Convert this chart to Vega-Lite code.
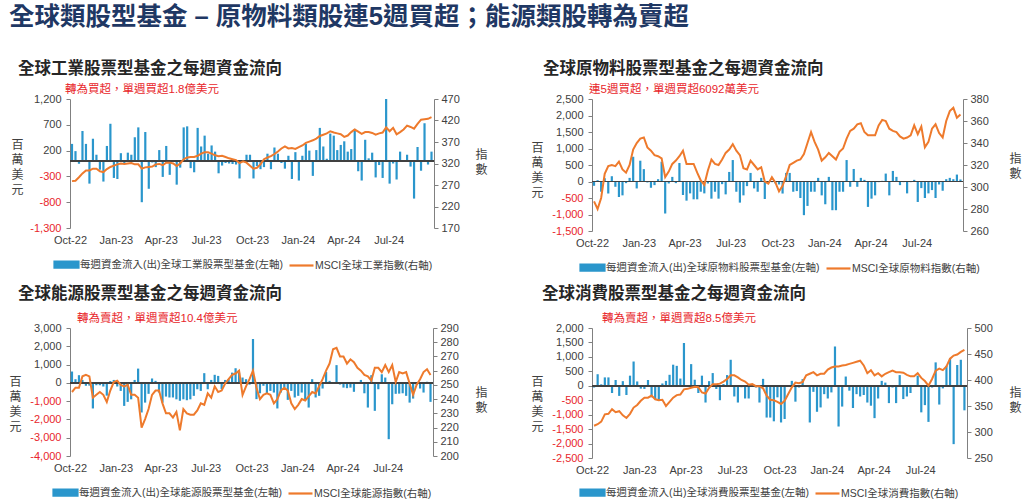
{
"$schema":"https://vega.github.io/schema/vega-lite/v6.json",
"padding":{"left":8,"top":4,"right":0,"bottom":0},
"title":{"text":"全球類股型基金 – 原物料類股連5週買超；能源類股轉為賣超","anchor":"start","frame":"bounds","fontSize":25.5,"fontWeight":"bold","color":"#1F3864","offset":31},
"config":{"font":"Liberation Sans, Noto Sans CJK TC, sans-serif","view":{"stroke":null},"axis":{"grid":false,"labelOverlap":false}},
"data":{"values":[
{"d":"2022-10-05","f1":330,"i1":279,"f2":-130,"i2":287,"f3":620,"i3":245,"f4":-60,"i4":312},
{"d":"2022-10-12","f1":190,"i1":280,"f2":40,"i2":280,"f3":200,"i3":248,"f4":400,"i4":315},
{"d":"2022-10-19","f1":-55,"i1":288,"f2":-310,"i2":290,"f3":420,"i3":248,"f4":50,"i4":320},
{"d":"2022-10-26","f1":580,"i1":297,"f2":100,"i2":312,"f3":160,"i3":256,"f4":290,"i4":334},
{"d":"2022-11-02","f1":330,"i1":304,"f2":-360,"i2":319,"f3":-160,"i3":257,"f4":290,"i4":335},
{"d":"2022-11-09","f1":-440,"i1":304,"f2":160,"i2":320,"f3":-150,"i3":256,"f4":-250,"i4":344},
{"d":"2022-11-16","f1":430,"i1":308,"f2":-160,"i2":319,"f3":-1400,"i3":241,"f4":200,"i4":338},
{"d":"2022-11-23","f1":120,"i1":308,"f2":-470,"i2":323,"f3":-130,"i3":243,"f4":-350,"i4":340},
{"d":"2022-11-30","f1":-170,"i1":302,"f2":-420,"i2":316,"f3":-130,"i3":245,"f4":160,"i4":332},
{"d":"2022-12-07","f1":-400,"i1":300,"f2":-50,"i2":313,"f3":-200,"i3":243,"f4":-320,"i4":327},
{"d":"2022-12-14","f1":290,"i1":307,"f2":110,"i2":320,"f3":-700,"i3":238,"f4":350,"i4":335},
{"d":"2022-12-21","f1":720,"i1":312,"f2":750,"i2":334,"f3":100,"i3":246,"f4":840,"i4":347},
{"d":"2022-12-28","f1":-330,"i1":315,"f2":-210,"i2":340,"f3":160,"i3":252,"f4":150,"i4":352},
{"d":"2023-01-04","f1":-350,"i1":318,"f2":630,"i2":344,"f3":-200,"i3":253,"f4":-100,"i4":360},
{"d":"2023-01-11","f1":150,"i1":320,"f2":375,"i2":345,"f3":-440,"i3":250,"f4":-110,"i4":366},
{"d":"2023-01-18","f1":-40,"i1":319,"f2":-30,"i2":336,"f3":-1260,"i3":249,"f4":200,"i4":366},
{"d":"2023-01-25","f1":160,"i1":320,"f2":-190,"i2":333,"f3":-1040,"i3":250,"f4":-400,"i4":370},
{"d":"2023-02-01","f1":120,"i1":321,"f2":-110,"i2":329,"f3":-900,"i3":243,"f4":-460,"i4":363},
{"d":"2023-02-08","f1":460,"i1":318,"f2":70,"i2":328,"f3":160,"i3":243,"f4":-520,"i4":361},
{"d":"2023-02-15","f1":650,"i1":318,"f2":600,"i2":326,"f3":780,"i3":241,"f4":80,"i4":362},
{"d":"2023-02-22","f1":-800,"i1":308,"f2":-970,"i2":309,"f3":-1620,"i3":220,"f4":170,"i4":350},
{"d":"2023-03-01","f1":560,"i1":311,"f2":-60,"i2":314,"f3":-1080,"i3":226,"f4":380,"i4":358},
{"d":"2023-03-08","f1":-540,"i1":312,"f2":140,"i2":321,"f3":-600,"i3":233,"f4":730,"i4":366},
{"d":"2023-03-15","f1":-30,"i1":313,"f2":-50,"i2":324,"f3":240,"i3":243,"f4":690,"i4":371},
{"d":"2023-03-22","f1":-120,"i1":318,"f2":560,"i2":328,"f3":110,"i3":246,"f4":250,"i4":372},
{"d":"2023-03-29","f1":210,"i1":319,"f2":-410,"i2":333,"f3":-530,"i3":246,"f4":1480,"i4":382},
{"d":"2023-04-05","f1":-310,"i1":316,"f2":-580,"i2":321,"f3":-1080,"i3":237,"f4":-30,"i4":383},
{"d":"2023-04-12","f1":290,"i1":322,"f2":-360,"i2":321,"f3":-750,"i3":230,"f4":750,"i4":385},
{"d":"2023-04-19","f1":-270,"i1":322,"f2":-540,"i2":321,"f3":-800,"i3":230,"f4":210,"i4":387},
{"d":"2023-04-26","f1":-20,"i1":320,"f2":-540,"i2":313,"f3":-800,"i3":227,"f4":-250,"i4":386},
{"d":"2023-05-03","f1":-460,"i1":314,"f2":-310,"i2":306,"f3":-900,"i3":231,"f4":350,"i4":376},
{"d":"2023-05-10","f1":-130,"i1":320,"f2":-360,"i2":302,"f3":-980,"i3":218,"f4":-580,"i4":374},
{"d":"2023-05-17","f1":650,"i1":330,"f2":-60,"i2":315,"f3":-900,"i3":233,"f4":160,"i4":385},
{"d":"2023-05-24","f1":670,"i1":334,"f2":-520,"i2":325,"f3":-950,"i3":230,"f4":440,"i4":392},
{"d":"2023-05-31","f1":-140,"i1":335,"f2":-310,"i2":321,"f3":-900,"i3":229,"f4":-110,"i4":392},
{"d":"2023-06-07","f1":-220,"i1":335,"f2":-520,"i2":320,"f3":-710,"i3":229,"f4":-500,"i4":393},
{"d":"2023-06-14","f1":640,"i1":338,"f2":-80,"i2":325,"f3":-350,"i3":232,"f4":60,"i4":397},
{"d":"2023-06-21","f1":280,"i1":343,"f2":-390,"i2":331,"f3":-440,"i3":237,"f4":370,"i4":402},
{"d":"2023-06-28","f1":490,"i1":346,"f2":290,"i2":334,"f3":530,"i3":236,"f4":900,"i4":409},
{"d":"2023-07-05","f1":140,"i1":346,"f2":650,"i2":339,"f3":-350,"i3":244,"f4":-370,"i4":409},
{"d":"2023-07-12","f1":300,"i1":343,"f2":-310,"i2":333,"f3":160,"i3":241,"f4":-580,"i4":405},
{"d":"2023-07-19","f1":180,"i1":339,"f2":-640,"i2":329,"f3":440,"i3":249,"f4":-50,"i4":400},
{"d":"2023-07-26","f1":-240,"i1":337,"f2":-420,"i2":317,"f3":380,"i3":245,"f4":-440,"i4":397},
{"d":"2023-08-02","f1":-90,"i1":338,"f2":-140,"i2":316,"f3":-350,"i3":246,"f4":-440,"i4":391},
{"d":"2023-08-09","f1":-40,"i1":335,"f2":260,"i2":324,"f3":160,"i3":251,"f4":-30,"i4":392},
{"d":"2023-08-16","f1":-50,"i1":332,"f2":-210,"i2":320,"f3":200,"i3":254,"f4":-60,"i4":388},
{"d":"2023-08-23","f1":-60,"i1":330,"f2":-310,"i2":316,"f3":560,"i3":257,"f4":-580,"i4":388},
{"d":"2023-08-30","f1":-70,"i1":328,"f2":110,"i2":318,"f3":800,"i3":258,"f4":240,"i4":384},
{"d":"2023-09-06","f1":-340,"i1":321,"f2":-530,"i2":305,"f3":560,"i3":260,"f4":-1100,"i4":370},
{"d":"2023-09-13","f1":-20,"i1":325,"f2":-50,"i2":303,"f3":290,"i3":243,"f4":-1100,"i4":362},
{"d":"2023-09-20","f1":120,"i1":322,"f2":-20,"i2":309,"f3":200,"i3":249,"f4":-1230,"i4":361},
{"d":"2023-09-27","f1":120,"i1":315,"f2":-60,"i2":304,"f3":-100,"i3":254,"f4":-400,"i4":358},
{"d":"2023-10-04","f1":-340,"i1":308,"f2":-90,"i2":296,"f3":2400,"i3":260,"f4":-1270,"i4":354},
{"d":"2023-10-11","f1":-100,"i1":310,"f2":-365,"i2":301,"f3":-890,"i3":248,"f4":-1150,"i4":360},
{"d":"2023-10-18","f1":-160,"i1":318,"f2":260,"i2":310,"f3":-570,"i3":240,"f4":20,"i4":373},
{"d":"2023-10-25","f1":-120,"i1":330,"f2":260,"i2":320,"f3":-160,"i3":243,"f4":170,"i4":386},
{"d":"2023-11-01","f1":140,"i1":334,"f2":-310,"i2":322,"f3":-570,"i3":244,"f4":-550,"i4":395},
{"d":"2023-11-08","f1":-160,"i1":337,"f2":-290,"i2":324,"f3":-440,"i3":243,"f4":-60,"i4":394},
{"d":"2023-11-15","f1":260,"i1":342,"f2":-500,"i2":325,"f3":-530,"i3":237,"f4":230,"i4":396},
{"d":"2023-11-22","f1":140,"i1":348,"f2":-1020,"i2":330,"f3":-1400,"i3":240,"f4":-40,"i4":409},
{"d":"2023-11-29","f1":-40,"i1":355,"f2":-740,"i2":340,"f3":-530,"i3":246,"f4":-1270,"i4":412},
{"d":"2023-12-06","f1":-150,"i1":360,"f2":-310,"i2":350,"f3":-260,"i3":248,"f4":-210,"i4":415},
{"d":"2023-12-13","f1":100,"i1":355,"f2":-310,"i2":341,"f3":-930,"i3":246,"f4":-900,"i4":409},
{"d":"2023-12-20","f1":-350,"i1":356,"f2":110,"i2":334,"f3":-440,"i3":237,"f4":-750,"i4":412},
{"d":"2023-12-27","f1":170,"i1":354,"f2":-420,"i2":324,"f3":-800,"i3":233,"f4":-290,"i4":412},
{"d":"2024-01-03","f1":-380,"i1":358,"f2":-690,"i2":327,"f3":-710,"i3":236,"f4":-440,"i4":420},
{"d":"2024-01-10","f1":100,"i1":362,"f2":140,"i2":331,"f3":-530,"i3":240,"f4":-230,"i4":424},
{"d":"2024-01-17","f1":330,"i1":368,"f2":-870,"i2":328,"f3":-930,"i3":239,"f4":1360,"i4":426},
{"d":"2024-01-24","f1":200,"i1":371,"f2":-870,"i2":325,"f3":-1350,"i3":242,"f4":-1410,"i4":426},
{"d":"2024-01-31","f1":-290,"i1":374,"f2":-310,"i2":332,"f3":200,"i3":245,"f4":-720,"i4":428},
{"d":"2024-02-07","f1":210,"i1":378,"f2":-310,"i2":335,"f3":-800,"i3":244,"f4":320,"i4":429},
{"d":"2024-02-14","f1":640,"i1":384,"f2":650,"i2":344,"f3":-710,"i3":249,"f4":-170,"i4":431},
{"d":"2024-02-21","f1":280,"i1":387,"f2":-160,"i2":351,"f3":-310,"i3":254,"f4":-770,"i4":433},
{"d":"2024-02-28","f1":40,"i1":390,"f2":380,"i2":353,"f3":600,"i3":260,"f4":-290,"i4":435},
{"d":"2024-03-06","f1":530,"i1":395,"f2":-160,"i2":357,"f3":110,"i3":265,"f4":-370,"i4":437},
{"d":"2024-03-13","f1":490,"i1":392,"f2":110,"i2":358,"f3":-30,"i3":275,"f4":-320,"i4":428},
{"d":"2024-03-20","f1":210,"i1":390,"f2":50,"i2":350,"f3":970,"i3":276,"f4":-580,"i4":413},
{"d":"2024-03-27","f1":310,"i1":388,"f2":-770,"i2":347,"f3":-90,"i3":270,"f4":-690,"i4":419},
{"d":"2024-04-03","f1":380,"i1":382,"f2":-520,"i2":347,"f3":-260,"i3":270,"f4":-1120,"i4":409},
{"d":"2024-04-10","f1":180,"i1":385,"f2":-420,"i2":347,"f3":-290,"i3":265,"f4":-440,"i4":413},
{"d":"2024-04-17","f1":230,"i1":393,"f2":-20,"i2":356,"f3":-260,"i3":268,"f4":170,"i4":407},
{"d":"2024-04-24","f1":620,"i1":399,"f2":20,"i2":361,"f3":-490,"i3":266,"f4":110,"i4":412},
{"d":"2024-05-01","f1":-200,"i1":394,"f2":240,"i2":360,"f3":-60,"i3":262,"f4":-600,"i4":415},
{"d":"2024-05-08","f1":-380,"i1":389,"f2":-420,"i2":353,"f3":160,"i3":260,"f4":-60,"i4":418},
{"d":"2024-05-15","f1":410,"i1":393,"f2":320,"i2":351,"f3":-570,"i3":257,"f4":-600,"i4":415},
{"d":"2024-05-22","f1":50,"i1":393,"f2":140,"i2":350,"f3":-1350,"i3":256,"f4":370,"i4":415},
{"d":"2024-05-29","f1":160,"i1":391,"f2":-110,"i2":346,"f3":420,"i3":253,"f4":-460,"i4":414},
{"d":"2024-06-05","f1":-320,"i1":387,"f2":-20,"i2":344,"f3":-1530,"i3":262,"f4":-370,"i4":410},
{"d":"2024-06-12","f1":-80,"i1":390,"f2":-360,"i2":345,"f3":-350,"i3":262,"f4":-250,"i4":407},
{"d":"2024-06-19","f1":-330,"i1":392,"f2":-20,"i2":347,"f3":470,"i3":259,"f4":-30,"i4":407},
{"d":"2024-06-26","f1":1200,"i1":404,"f2":50,"i2":356,"f3":290,"i3":264,"f4":350,"i4":413},
{"d":"2024-07-03","f1":-440,"i1":395,"f2":-620,"i2":348,"f3":-3080,"i3":259,"f4":-920,"i4":404},
{"d":"2024-07-10","f1":-50,"i1":403,"f2":-200,"i2":355,"f3":-1170,"i3":264,"f4":-670,"i4":398},
{"d":"2024-07-17","f1":-360,"i1":388,"f2":-500,"i2":336,"f3":-600,"i3":252,"f4":-1250,"i4":389},
{"d":"2024-07-24","f1":180,"i1":393,"f2":-360,"i2":341,"f3":-590,"i3":259,"f4":-60,"i4":402},
{"d":"2024-07-31","f1":-20,"i1":399,"f2":-260,"i2":353,"f3":-570,"i3":258,"f4":810,"i4":418},
{"d":"2024-08-07","f1":120,"i1":408,"f2":-500,"i2":357,"f3":-710,"i3":259,"f4":-650,"i4":422},
{"d":"2024-08-14","f1":-110,"i1":405,"f2":-90,"i2":349,"f3":-1080,"i3":251,"f4":-90,"i4":419},
{"d":"2024-08-21","f1":-730,"i1":401,"f2":-280,"i2":345,"f3":-860,"i3":243,"f4":690,"i4":426},
{"d":"2024-08-28","f1":270,"i1":412,"f2":70,"i2":360,"f3":-100,"i3":250,"f4":950,"i4":441},
{"d":"2024-09-04","f1":-190,"i1":422,"f2":110,"i2":369,"f3":-310,"i3":254,"f4":-2020,"i4":447},
{"d":"2024-09-11","f1":730,"i1":423,"f2":70,"i2":372,"f3":-530,"i3":259,"f4":720,"i4":449},
{"d":"2024-09-18","f1":-70,"i1":424,"f2":210,"i2":363,"f3":60,"i3":261,"f4":900,"i4":454},
{"d":"2024-09-25","f1":180,"i1":428,"f2":61,"i2":366,"f3":-1040,"i3":257,"f4":-850,"i4":458}
]},
"spacing":11,
"resolve":{"scale":{"color":"independent"},"legend":{"color":"independent"}},
"vconcat":[
{"hconcat":[
{"title":{"text":"全球工業股票型基金之每週資金流向","anchor":"start","frame":"bounds","fontSize":16.5,"fontWeight":"bold","color":"#262626","offset":6,"dx":7},
 "resolve":{"scale":{"color":"independent"},"legend":{"color":"independent"}},
 "vconcat":[{
  "width":364,"height":129,
  "title":{"text":"轉為買超，單週買超1.8億美元","anchor":"start","frame":"group","fontSize":11.5,"fontWeight":"normal","color":"#E8262B","offset":-2,"dx":-5},
  "layer":[
   {"layer":[
    {"mark":{"type":"bar","size":2.2},
     "encoding":{
      "x":{"field":"d","type":"temporal","title":null,"scale":{"nice":false,"padding":0,"domain":[{"year":2022,"month":10,"date":1},{"year":2024,"month":9,"date":30}]},"axis":{"format":"%b-%y","tickCount":{"interval":"month","step":3},"domain":false,"ticks":false,"labelPadding":6,"labelFontSize":11,"labelColor":"#404040","labelFlush":false,"labelOverlap":false,"grid":false}},
      "y":{"field":"f1","type":"quantitative","scale":{"domain":[-1300,1200],"nice":false,"zero":false},"axis":{"orient":"left","values":[-1300,-800,-300,200,700,1200],"labelOverlap":false,"grid":false,"domainColor":"#808080","tickColor":"#808080","tickSize":4,"labelPadding":5,"labelFontSize":11,"labelColor":{"condition":{"test":"datum.value < 0","value":"#E8262B"},"value":"#404040"},"labelExpr":"(datum.value < 0 ? '-' : '') + format(abs(datum.value), ',')","title":["百","萬","美","元"],"titleAngle":0,"titleAlign":"center","titleBaseline":"top","titleX":-53,"titleY":40,"titleFontSize":12,"titleFontWeight":"normal","titleColor":"#404040","titleLineHeight":15}},
      "color":{"datum":"每週資金流入(出)全球工業股票型基金(左軸)","type":"nominal","scale":{"domain":["每週資金流入(出)全球工業股票型基金(左軸)","MSCI全球工業指數(右軸)"],"range":["#2A96CC","#EE7A2C"]},
       "legend":{"orient":"none","legendX":-17,"legendY":152,"direction":"horizontal","title":null,"labelFontSize":10.5,"labelColor":"#404040","labelLimit":0,"symbolSize":576,"labelOffset":0,"columnPadding":2,"padding":0,
        "encode":{"symbols":{"update":{"shape":{"signal":"indexof(datum.value,'MSCI')<0 ? 'M-1,-0.25H1V0.25H-1Z' : 'stroke'"},"fill":{"signal":"indexof(datum.value,'MSCI')<0 ? '#2A96CC' : 'transparent'"},"stroke":{"signal":"indexof(datum.value,'MSCI')<0 ? 'transparent' : '#EE7A2C'"},"strokeWidth":{"value":2.2},"opacity":{"value":1}}}}}}}},
    {"mark":{"type":"rule","color":"#404040","strokeWidth":1},"encoding":{"y":{"datum":0,"type":"quantitative","axis":{"orient":"left","values":[-1300,-800,-300,200,700,1200],"labelOverlap":false,"grid":false,"domainColor":"#808080","tickColor":"#808080","tickSize":4,"labelPadding":5,"labelFontSize":11,"labelColor":{"condition":{"test":"datum.value < 0","value":"#E8262B"},"value":"#404040"},"labelExpr":"(datum.value < 0 ? '-' : '') + format(abs(datum.value), ',')","title":["百","萬","美","元"],"titleAngle":0,"titleAlign":"center","titleBaseline":"top","titleX":-53,"titleY":40,"titleFontSize":12,"titleFontWeight":"normal","titleColor":"#404040","titleLineHeight":15}}}}
   ]},
   {"mark":{"type":"line","strokeWidth":2},
    "encoding":{
     "x":{"field":"d","type":"temporal","title":null,"scale":{"nice":false,"padding":0,"domain":[{"year":2022,"month":10,"date":1},{"year":2024,"month":9,"date":30}]},"axis":{"format":"%b-%y","tickCount":{"interval":"month","step":3},"domain":false,"ticks":false,"labelPadding":6,"labelFontSize":11,"labelColor":"#404040","labelFlush":false,"labelOverlap":false,"grid":false}},
     "y":{"field":"i1","type":"quantitative","scale":{"domain":[170,470],"nice":false,"zero":false},"axis":{"orient":"right","values":[170,220,270,320,370,420,470],"labelOverlap":false,"grid":false,"domainColor":"#808080","tickColor":"#808080","tickSize":4,"labelPadding":3,"labelFontSize":11,"labelColor":"#404040","title":["指","數"],"titleAngle":0,"titleAlign":"center","titleBaseline":"top","titleX":47,"titleY":50,"titleFontSize":12,"titleFontWeight":"normal","titleColor":"#404040","titleLineHeight":15}},
     "color":{"datum":"MSCI全球工業指數(右軸)","type":"nominal"}}}
  ],
  "resolve":{"scale":{"y":"independent"}}
 }]},
{"title":{"text":"全球原物料股票型基金之每週資金流向","anchor":"start","frame":"bounds","fontSize":16.5,"fontWeight":"bold","color":"#262626","offset":6,"dx":12},
 "resolve":{"scale":{"color":"independent"},"legend":{"color":"independent"}},
 "vconcat":[{
  "width":371,"height":132,
  "title":{"text":"連5週買超，單週買超6092萬美元","anchor":"start","frame":"group","fontSize":11.5,"fontWeight":"normal","color":"#E8262B","offset":-2,"dx":-3},
  "layer":[
   {"layer":[
    {"mark":{"type":"bar","size":2.2},
     "encoding":{
      "x":{"field":"d","type":"temporal","title":null,"scale":{"nice":false,"padding":0,"domain":[{"year":2022,"month":10,"date":1},{"year":2024,"month":9,"date":30}]},"axis":{"format":"%b-%y","tickCount":{"interval":"month","step":3},"domain":false,"ticks":false,"labelPadding":6,"labelFontSize":11,"labelColor":"#404040","labelFlush":false,"labelOverlap":false,"grid":false}},
      "y":{"field":"f2","type":"quantitative","scale":{"domain":[-1500,2500],"nice":false,"zero":false},"axis":{"orient":"left","values":[-1500,-1000,-500,0,500,1000,1500,2000,2500],"labelOverlap":false,"grid":false,"domainColor":"#808080","tickColor":"#808080","tickSize":4,"labelPadding":5,"labelFontSize":11,"labelColor":{"condition":{"test":"datum.value < 0","value":"#E8262B"},"value":"#404040"},"labelExpr":"(datum.value < 0 ? '-' : '') + format(abs(datum.value), ',')","title":["百","萬","美","元"],"titleAngle":0,"titleAlign":"center","titleBaseline":"top","titleX":-55,"titleY":43,"titleFontSize":12,"titleFontWeight":"normal","titleColor":"#404040","titleLineHeight":15}},
      "color":{"datum":"每週資金流入(出)全球原物料股票型基金(左軸)","type":"nominal","scale":{"domain":["每週資金流入(出)全球原物料股票型基金(左軸)","MSCI全球原物料指數(右軸)"],"range":["#2A96CC","#EE7A2C"]},
       "legend":{"orient":"none","legendX":-13,"legendY":155,"direction":"horizontal","title":null,"labelFontSize":10.5,"labelColor":"#404040","labelLimit":0,"symbolSize":576,"labelOffset":0,"columnPadding":2,"padding":0,
        "encode":{"symbols":{"update":{"shape":{"signal":"indexof(datum.value,'MSCI')<0 ? 'M-1,-0.25H1V0.25H-1Z' : 'stroke'"},"fill":{"signal":"indexof(datum.value,'MSCI')<0 ? '#2A96CC' : 'transparent'"},"stroke":{"signal":"indexof(datum.value,'MSCI')<0 ? 'transparent' : '#EE7A2C'"},"strokeWidth":{"value":2.2},"opacity":{"value":1}}}}}}}},
    {"mark":{"type":"rule","color":"#404040","strokeWidth":1},"encoding":{"y":{"datum":0,"type":"quantitative","axis":{"orient":"left","values":[-1500,-1000,-500,0,500,1000,1500,2000,2500],"labelOverlap":false,"grid":false,"domainColor":"#808080","tickColor":"#808080","tickSize":4,"labelPadding":5,"labelFontSize":11,"labelColor":{"condition":{"test":"datum.value < 0","value":"#E8262B"},"value":"#404040"},"labelExpr":"(datum.value < 0 ? '-' : '') + format(abs(datum.value), ',')","title":["百","萬","美","元"],"titleAngle":0,"titleAlign":"center","titleBaseline":"top","titleX":-55,"titleY":43,"titleFontSize":12,"titleFontWeight":"normal","titleColor":"#404040","titleLineHeight":15}}}}
   ]},
   {"mark":{"type":"line","strokeWidth":2},
    "encoding":{
     "x":{"field":"d","type":"temporal","title":null,"scale":{"nice":false,"padding":0,"domain":[{"year":2022,"month":10,"date":1},{"year":2024,"month":9,"date":30}]},"axis":{"format":"%b-%y","tickCount":{"interval":"month","step":3},"domain":false,"ticks":false,"labelPadding":6,"labelFontSize":11,"labelColor":"#404040","labelFlush":false,"labelOverlap":false,"grid":false}},
     "y":{"field":"i2","type":"quantitative","scale":{"domain":[260,380],"nice":false,"zero":false},"axis":{"orient":"right","values":[260,280,300,320,340,360,380],"labelOverlap":false,"grid":false,"domainColor":"#808080","tickColor":"#808080","tickSize":4,"labelPadding":3,"labelFontSize":11,"labelColor":"#404040","title":["指","數"],"titleAngle":0,"titleAlign":"center","titleBaseline":"top","titleX":52,"titleY":54,"titleFontSize":12,"titleFontWeight":"normal","titleColor":"#404040","titleLineHeight":15}},
     "color":{"datum":"MSCI全球原物料指數(右軸)","type":"nominal"}}}
  ],
  "resolve":{"scale":{"y":"independent"}}
 }]}
],"spacing":42,"resolve":{"scale":{"color":"independent"},"legend":{"color":"independent"}}},
{"hconcat":[
{"title":{"text":"全球能源股票型基金之每週資金流向","anchor":"start","frame":"bounds","fontSize":16.5,"fontWeight":"bold","color":"#262626","offset":10,"dx":9},
 "resolve":{"scale":{"color":"independent"},"legend":{"color":"independent"}},
 "vconcat":[{
  "width":363,"height":128,
  "title":{"text":"轉為賣超，單週賣超10.4億美元","anchor":"start","frame":"group","fontSize":11.5,"fontWeight":"normal","color":"#E8262B","offset":-2,"dx":7},
  "layer":[
   {"layer":[
    {"mark":{"type":"bar","size":2.2},
     "encoding":{
      "x":{"field":"d","type":"temporal","title":null,"scale":{"nice":false,"padding":0,"domain":[{"year":2022,"month":10,"date":1},{"year":2024,"month":9,"date":30}]},"axis":{"format":"%b-%y","tickCount":{"interval":"month","step":3},"domain":false,"ticks":false,"labelPadding":6,"labelFontSize":11,"labelColor":"#404040","labelFlush":false,"labelOverlap":false,"grid":false}},
      "y":{"field":"f3","type":"quantitative","scale":{"domain":[-4000,3000],"nice":false,"zero":false},"axis":{"orient":"left","values":[-4000,-3000,-2000,-1000,0,1000,2000,3000],"labelOverlap":false,"grid":false,"domainColor":"#808080","tickColor":"#808080","tickSize":4,"labelPadding":5,"labelFontSize":11,"labelColor":{"condition":{"test":"datum.value < 0","value":"#E8262B"},"value":"#404040"},"labelExpr":"(datum.value < 0 ? '-' : '') + format(abs(datum.value), ',')","title":["百","萬","美","元"],"titleAngle":0,"titleAlign":"center","titleBaseline":"top","titleX":-55,"titleY":48,"titleFontSize":12,"titleFontWeight":"normal","titleColor":"#404040","titleLineHeight":15}},
      "color":{"datum":"每週資金流入(出)全球能源股票型基金(左軸)","type":"nominal","scale":{"domain":["每週資金流入(出)全球能源股票型基金(左軸)","MSCI全球能源指數(右軸)"],"range":["#2A96CC","#EE7A2C"]},
       "legend":{"orient":"none","legendX":-18,"legendY":151,"direction":"horizontal","title":null,"labelFontSize":10.5,"labelColor":"#404040","labelLimit":0,"symbolSize":576,"labelOffset":0,"columnPadding":2,"padding":0,
        "encode":{"symbols":{"update":{"shape":{"signal":"indexof(datum.value,'MSCI')<0 ? 'M-1,-0.25H1V0.25H-1Z' : 'stroke'"},"fill":{"signal":"indexof(datum.value,'MSCI')<0 ? '#2A96CC' : 'transparent'"},"stroke":{"signal":"indexof(datum.value,'MSCI')<0 ? 'transparent' : '#EE7A2C'"},"strokeWidth":{"value":2.2},"opacity":{"value":1}}}}}}}},
    {"mark":{"type":"rule","color":"#404040","strokeWidth":1},"encoding":{"y":{"datum":0,"type":"quantitative","axis":{"orient":"left","values":[-4000,-3000,-2000,-1000,0,1000,2000,3000],"labelOverlap":false,"grid":false,"domainColor":"#808080","tickColor":"#808080","tickSize":4,"labelPadding":5,"labelFontSize":11,"labelColor":{"condition":{"test":"datum.value < 0","value":"#E8262B"},"value":"#404040"},"labelExpr":"(datum.value < 0 ? '-' : '') + format(abs(datum.value), ',')","title":["百","萬","美","元"],"titleAngle":0,"titleAlign":"center","titleBaseline":"top","titleX":-55,"titleY":48,"titleFontSize":12,"titleFontWeight":"normal","titleColor":"#404040","titleLineHeight":15}}}}
   ]},
   {"mark":{"type":"line","strokeWidth":2},
    "encoding":{
     "x":{"field":"d","type":"temporal","title":null,"scale":{"nice":false,"padding":0,"domain":[{"year":2022,"month":10,"date":1},{"year":2024,"month":9,"date":30}]},"axis":{"format":"%b-%y","tickCount":{"interval":"month","step":3},"domain":false,"ticks":false,"labelPadding":6,"labelFontSize":11,"labelColor":"#404040","labelFlush":false,"labelOverlap":false,"grid":false}},
     "y":{"field":"i3","type":"quantitative","scale":{"domain":[200,290],"nice":false,"zero":false},"axis":{"orient":"right","values":[200,210,220,230,240,250,260,270,280,290],"labelOverlap":false,"grid":false,"domainColor":"#808080","tickColor":"#808080","tickSize":4,"labelPadding":3,"labelFontSize":11,"labelColor":"#404040","title":["指","數"],"titleAngle":0,"titleAlign":"center","titleBaseline":"top","titleX":48,"titleY":59,"titleFontSize":12,"titleFontWeight":"normal","titleColor":"#404040","titleLineHeight":15}},
     "color":{"datum":"MSCI全球能源指數(右軸)","type":"nominal"}}}
  ],
  "resolve":{"scale":{"y":"independent"}}
 }]},
{"title":{"text":"全球消費股票型基金之每週資金流向","anchor":"start","frame":"bounds","fontSize":16.5,"fontWeight":"bold","color":"#262626","offset":10,"dx":11},
 "resolve":{"scale":{"color":"independent"},"legend":{"color":"independent"}},
 "vconcat":[{
  "width":375,"height":130,
  "title":{"text":"轉為賣超，單週賣超8.5億美元","anchor":"start","frame":"group","fontSize":11.5,"fontWeight":"normal","color":"#E8262B","offset":-2,"dx":10},
  "layer":[
   {"layer":[
    {"mark":{"type":"bar","size":2.2},
     "encoding":{
      "x":{"field":"d","type":"temporal","title":null,"scale":{"nice":false,"padding":0,"domain":[{"year":2022,"month":10,"date":1},{"year":2024,"month":9,"date":30}]},"axis":{"format":"%b-%y","tickCount":{"interval":"month","step":3},"domain":false,"ticks":false,"labelPadding":6,"labelFontSize":11,"labelColor":"#404040","labelFlush":false,"labelOverlap":false,"grid":false}},
      "y":{"field":"f4","type":"quantitative","scale":{"domain":[-2500,2000],"nice":false,"zero":false},"axis":{"orient":"left","values":[-2500,-2000,-1500,-1000,-500,0,500,1000,1500,2000],"labelOverlap":false,"grid":false,"domainColor":"#808080","tickColor":"#808080","tickSize":4,"labelPadding":5,"labelFontSize":11,"labelColor":{"condition":{"test":"datum.value < 0","value":"#E8262B"},"value":"#404040"},"labelExpr":"(datum.value < 0 ? '-' : '') + format(abs(datum.value), ',')","title":["百","萬","美","元"],"titleAngle":0,"titleAlign":"center","titleBaseline":"top","titleX":-55,"titleY":48,"titleFontSize":12,"titleFontWeight":"normal","titleColor":"#404040","titleLineHeight":15}},
      "color":{"datum":"每週資金流入(出)全球消費股票型基金(左軸)","type":"nominal","scale":{"domain":["每週資金流入(出)全球消費股票型基金(左軸)","MSCI全球消費指數(右軸)"],"range":["#2A96CC","#EE7A2C"]},
       "legend":{"orient":"none","legendX":-13,"legendY":151,"direction":"horizontal","title":null,"labelFontSize":10.5,"labelColor":"#404040","labelLimit":0,"symbolSize":576,"labelOffset":0,"columnPadding":2,"padding":0,
        "encode":{"symbols":{"update":{"shape":{"signal":"indexof(datum.value,'MSCI')<0 ? 'M-1,-0.25H1V0.25H-1Z' : 'stroke'"},"fill":{"signal":"indexof(datum.value,'MSCI')<0 ? '#2A96CC' : 'transparent'"},"stroke":{"signal":"indexof(datum.value,'MSCI')<0 ? 'transparent' : '#EE7A2C'"},"strokeWidth":{"value":2.2},"opacity":{"value":1}}}}}}}},
    {"mark":{"type":"rule","color":"#404040","strokeWidth":1},"encoding":{"y":{"datum":0,"type":"quantitative","axis":{"orient":"left","values":[-2500,-2000,-1500,-1000,-500,0,500,1000,1500,2000],"labelOverlap":false,"grid":false,"domainColor":"#808080","tickColor":"#808080","tickSize":4,"labelPadding":5,"labelFontSize":11,"labelColor":{"condition":{"test":"datum.value < 0","value":"#E8262B"},"value":"#404040"},"labelExpr":"(datum.value < 0 ? '-' : '') + format(abs(datum.value), ',')","title":["百","萬","美","元"],"titleAngle":0,"titleAlign":"center","titleBaseline":"top","titleX":-55,"titleY":48,"titleFontSize":12,"titleFontWeight":"normal","titleColor":"#404040","titleLineHeight":15}}}}
   ]},
   {"mark":{"type":"line","strokeWidth":2},
    "encoding":{
     "x":{"field":"d","type":"temporal","title":null,"scale":{"nice":false,"padding":0,"domain":[{"year":2022,"month":10,"date":1},{"year":2024,"month":9,"date":30}]},"axis":{"format":"%b-%y","tickCount":{"interval":"month","step":3},"domain":false,"ticks":false,"labelPadding":6,"labelFontSize":11,"labelColor":"#404040","labelFlush":false,"labelOverlap":false,"grid":false}},
     "y":{"field":"i4","type":"quantitative","scale":{"domain":[250,500],"nice":false,"zero":false},"axis":{"orient":"right","values":[250,300,350,400,450,500],"labelOverlap":false,"grid":false,"domainColor":"#808080","tickColor":"#808080","tickSize":4,"labelPadding":3,"labelFontSize":11,"labelColor":"#404040","title":["指","數"],"titleAngle":0,"titleAlign":"center","titleBaseline":"top","titleX":48,"titleY":59,"titleFontSize":12,"titleFontWeight":"normal","titleColor":"#404040","titleLineHeight":15}},
     "color":{"datum":"MSCI全球消費指數(右軸)","type":"nominal"}}}
  ],
  "resolve":{"scale":{"y":"independent"}}
 }]}
],"spacing":42,"resolve":{"scale":{"color":"independent"},"legend":{"color":"independent"}}}
]
}
